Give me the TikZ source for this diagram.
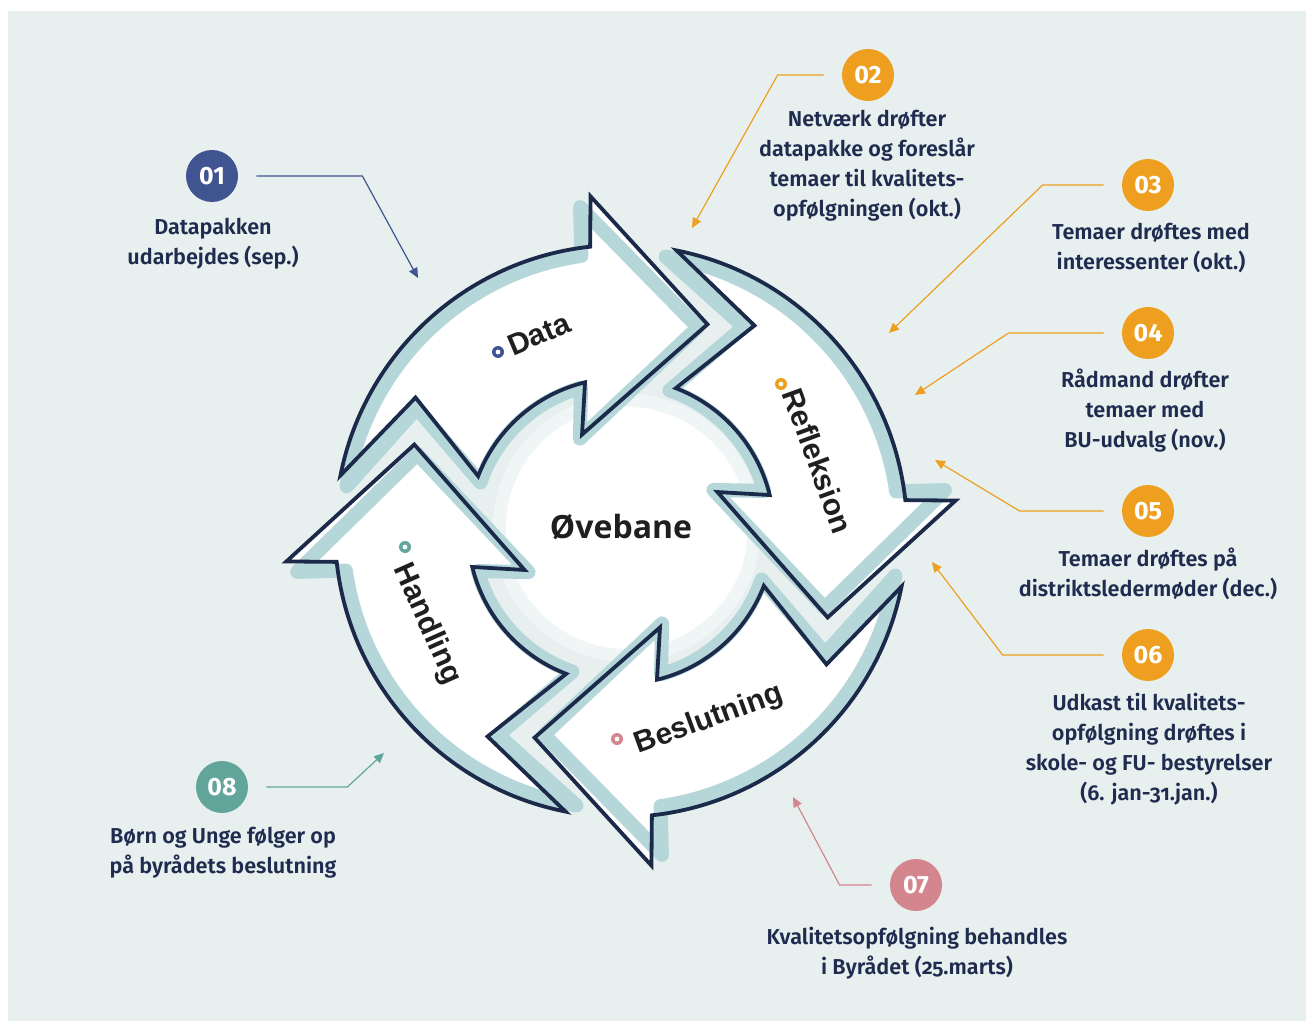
\documentclass[tikz,border=0pt]{standalone}
\usepackage{fontspec}
\setmainfont{Fira Sans}
\newfontfamily\stepfont{Fira Sans}[UprightFont={* SemiBold},Numbers=OldStyle]
\newfontfamily\badgefont{Fira Sans}
\newfontfamily\cyclefont{Liberation Sans}
\newfontfamily\centerfont{Open Sans}
\usepackage{tikz}
\usetikzlibrary{arrows.meta}
\definecolor{bgcol}{HTML}{E8F0EF}
\definecolor{textnavy}{HTML}{1F2C4F}
\definecolor{arrownavy}{HTML}{1B2A4A}
\definecolor{shadowteal}{HTML}{B6D7D9}
\definecolor{badgeblue}{HTML}{405491}
\definecolor{badgeorange}{HTML}{EE9F20}
\definecolor{badgepink}{HTML}{D4868E}
\definecolor{badgegreen}{HTML}{62A59B}
\newcommand{\cyclearrow}{(168.8:286) arc[start angle=168.8,end angle=96.2,radius=286]
  -- (95.2:336) -- (67.3:224) -- (112:104) -- (103.6:153)
  arc[start angle=103.6,end angle=159,radius=153] -- (147:245) -- cycle}

\begin{document}
\begin{tikzpicture}[x=0.5pt,y=-0.5pt,
  badge/.style={circle,fill=#1,minimum size=26pt,inner sep=0pt,text=white,
    font=\badgefont\bfseries\fontsize{12.5}{12.5}\selectfont},
  steptext/.style={align=center,text=textnavy,font=\stepfont\fontsize{10.8}{15}\selectfont},
  leader/.style={draw=#1,line width=0.6pt,shorten <=9pt,-{Triangle[length=5pt,width=4.5pt]}},
  ringdot/.style={circle,fill=#1,minimum size=6pt,inner sep=0pt,
    path picture={\fill[white] (path picture bounding box.center) circle (1.2pt);}},
  cyclelabel/.style={text=black!88,font=\cyclefont\bfseries\fontsize{15}{15}\selectfont}]
\useasboundingbox (0,0) rectangle (1306,1021);
\fill[bgcol] (8,11) rectangle (1306,1021);

\fill[white!35!bgcol] (627,528) circle (134);
\fill[white] (627,528) circle (121);
\node[font=\centerfont\bfseries\fontsize{16}{16}\selectfont,text=black!88] (center) at (621,527) {Øvebane};

\foreach \rot in {0,-90,-180,-270}{
  \begin{scope}[shift={(621,531)},y=0.5pt,rotate=\rot]
    \fill[shadowteal,rotate=2,scale=.972] \cyclearrow;
    \fill[white] \cyclearrow;
    \draw[shadowteal,line width=7pt,line join=round,rotate=2,scale=.972] \cyclearrow;
    \draw[arrownavy,line width=1.9pt] \cyclearrow;
  \end{scope}
}

\node[ringdot=badgeblue] (dotData) at (498,352) {};
\node[cyclelabel,rotate=23] (Data) at (539,334) {Data};
\node[ringdot=badgeorange] (dotRefl) at (781,384) {};
\node[cyclelabel,rotate=-70] (Refl) at (818,461) {Refleksion};
\node[ringdot=badgepink] (dotBesl) at (617,739) {};
\node[cyclelabel,rotate=20] (Besl) at (709,720) {Beslutning};
\node[ringdot=badgegreen] (dotHand) at (405,547) {};
\node[cyclelabel,rotate=-66] (Hand) at (427,624) {Handling};

\node[badge=badgeblue] (n01) at (212,176) {01};
\node[badge=badgeorange] (n02) at (868,75) {02};
\node[badge=badgeorange] (n03) at (1148,185) {03};
\node[badge=badgeorange] (n04) at (1148,333) {04};
\node[badge=badgeorange] (n05) at (1148,511) {05};
\node[badge=badgeorange] (n06) at (1148,655) {06};
\node[badge=badgepink] (n07) at (916,885) {07};
\node[badge=badgegreen] (n08) at (222,787) {08};

\node[steptext] (l01) at (213,244) {Datapakken\\udarbejdes (sep.)};
\node[steptext] (l02) at (867,166) {Netværk drøfter\\datapakke og foreslår\\temaer til kvalitets-\\opfølgningen (okt.)};
\node[steptext] (l03) at (1151,248) {Temaer drøftes med\\interessenter (okt.)};
\node[steptext] (l04) at (1145,411) {Rådmand drøfter\\temaer med\\BU-udvalg (nov.)};
\node[steptext] (l05) at (1148,574) {Temaer drøftes på\\distriktsledermøder (dec.)};
\node[steptext] (l06) at (1149,749) {Udkast til kvalitets-\\opfølgning drøftes i\\skole- og FU- bestyrelser\\(6. jan-31.jan.)};
\node[steptext] (l07) at (917,953) {Kvalitetsopfølgning behandles\\i Byrådet (25.marts)};
\node[steptext] (l08) at (223,853) {Børn og Unge følger op\\på byrådets beslutning};

\coordinate (t01) at (418,278);
\coordinate (t02) at (692,228);
\coordinate (t03) at (889,333);
\coordinate (t04) at (915,395);
\coordinate (t05) at (935,460);
\coordinate (t06) at (932,562);
\coordinate (t07) at (793,797);
\coordinate (t08) at (384,753);

\draw[leader=badgeblue] (n01.east) -- ++(124,0) -- (t01);
\draw[leader=badgeorange] (n02.west) -- ++(-64,0) -- (t02);
\draw[leader=badgeorange] (n03.west) -- ++(-79,0) -- (t03);
\draw[leader=badgeorange] (n04.west) -- ++(-113,0) -- (t04);
\draw[leader=badgeorange] (n05.west) -- ++(-102,0) -- (t05);
\draw[leader=badgeorange] (n06.west) -- ++(-119,0) -- (t06);
\draw[leader=badgepink] (n07.west) -- ++(-50,0) -- (t07);
\draw[leader=badgegreen] (n08.east) -- ++(99,0) -- (t08);
\end{tikzpicture}
\end{document}
